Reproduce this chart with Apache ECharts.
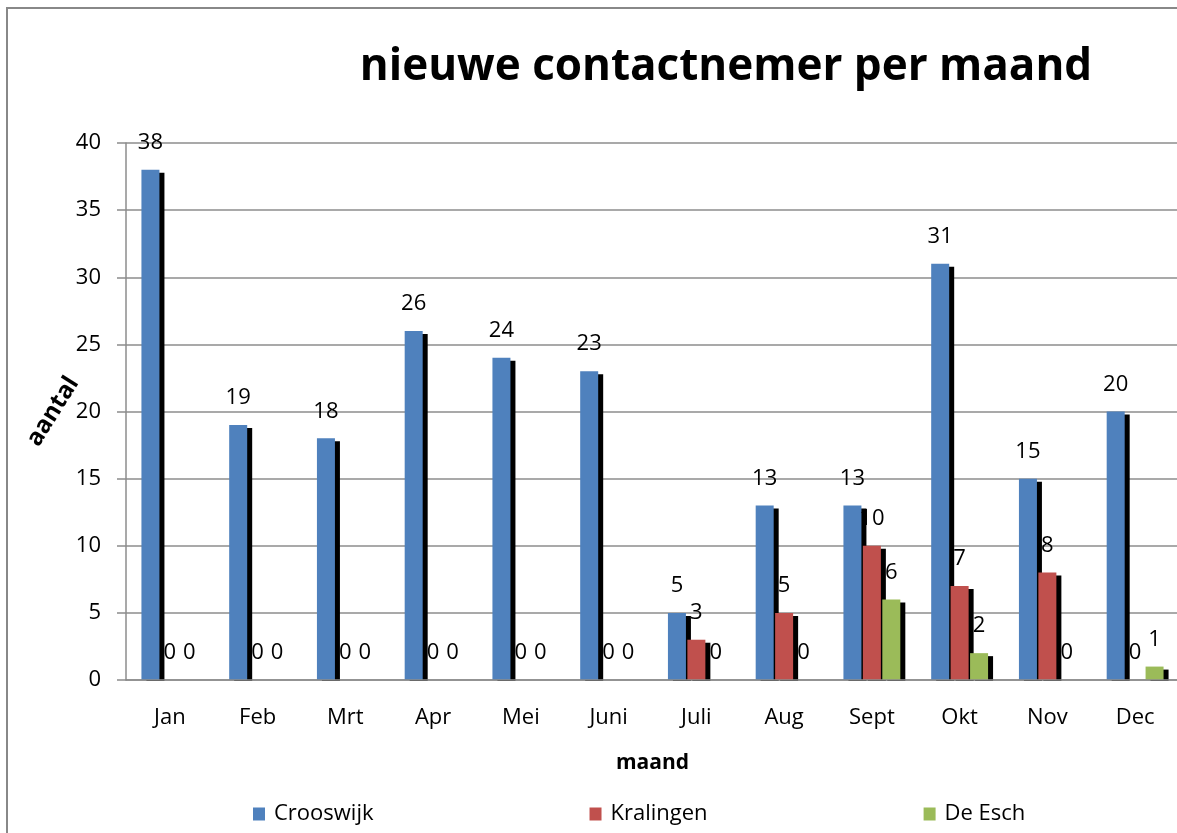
<!DOCTYPE html>
<html>
<head>
<meta charset="utf-8">
<title>nieuwe contactnemer per maand</title>
<script src="https://cdn.jsdelivr.net/npm/echarts@6/dist/echarts.min.js"></script>
<style>
  html, body { margin: 0; padding: 0; background: #fff; }
  #chart { width: 1177px; height: 833px; }
</style>
</head>
<body>
<div id="chart"></div>
<script>
// maanden
const months = ['Jan', 'Feb', 'Mrt', 'Apr', 'Mei', 'Juni', 'Juli', 'Aug', 'Sept', 'Okt', 'Nov', 'Dec'];
// nieuwe contactnemers per wijk
const crooswijk = [38, 19, 18, 26, 24, 23, 5, 13, 13, 31, 15, 20];
const kralingen = [0, 0, 0, 0, 0, 0, 3, 5, 10, 7, 8, 0];
const deEsch = [0, 0, 0, 0, 0, 0, 0, 0, 6, 2, 0, 1];
const yTicks = [0, 5, 10, 15, 20, 25, 30, 35, 40];

const font = 'Open Sans';
const gridColor = '#8c8c8c';

function barSeries(name, data, color) {
  return {
    name: name,
    type: 'bar',
    data: data,
    barWidth: 18,
    barGap: '8%',
    itemStyle: {
      color: color,
      // zwarte schaduw rechts van de staaf
      shadowColor: '#000',
      shadowBlur: 0,
      shadowOffsetX: 5,
      shadowOffsetY: 3
    },
    label: {
      show: true,
      position: 'top',
      distance: 16,
      color: '#000',
      fontFamily: font,
      fontSize: 22
    },
    animation: false
  };
}

const chart = echarts.init(document.getElementById('chart'));
chart.setOption({
  animation: false,
  textStyle: { fontFamily: font },
  graphic: [
    // kader van de grafiek
    {
      type: 'rect',
      shape: { x: 7, y: 8, width: 1220, height: 900 },
      style: { fill: 'none', stroke: '#888', lineWidth: 2 },
      silent: true
    },
    // schaduw niet onder de x-as laten uitsteken
    {
      type: 'rect',
      z: 2.5,
      shape: { x: 127, y: 681, width: 1060, height: 5 },
      style: { fill: '#fff' },
      silent: true
    }
  ],
  title: {
    text: 'nieuwe contactnemer per maand',
    left: 721,
    top: 40,
    textAlign: 'center',
    textStyle: {
      fontFamily: font,
      fontSize: 44,
      fontWeight: 'bold',
      color: '#000'
    }
  },
  legend: {
    left: 248,
    top: 798,
    itemWidth: 12,
    itemHeight: 13,
    itemGap: 216,
    icon: 'rect',
    textStyle: {
      fontFamily: font,
      fontSize: 22,
      color: '#000',
      padding: [0, 0, 0, 4]
    }
  },
  grid: {
    left: 126,
    top: 143,
    width: 1053,
    bottom: 153,
    containLabel: false,
    outerBoundsMode: 'none'
  },
  xAxis: {
    type: 'category',
    data: months,
    name: 'maand',
    nameLocation: 'middle',
    nameGap: 73,
    nameMoveOverlap: false,
    nameTextStyle: {
      fontFamily: font,
      fontSize: 21,
      fontWeight: 'bold',
      color: '#000'
    },
    z: 3,
    axisLine: { lineStyle: { color: gridColor, width: 1.5 } },
    axisTick: { length: 9, lineStyle: { color: gridColor, width: 1.5 } },
    axisLabel: {
      margin: 27,
      color: '#000',
      fontFamily: font,
      fontSize: 22
    }
  },
  yAxis: {
    type: 'value',
    min: yTicks[0],
    max: yTicks[yTicks.length - 1],
    interval: 5,
    name: 'aantal',
    nameLocation: 'middle',
    nameRotate: 58,
    nameGap: 73,
    nameMoveOverlap: false,
    nameTextStyle: {
      fontFamily: font,
      fontSize: 24,
      fontWeight: 'bold',
      color: '#000',
      align: 'center',
      verticalAlign: 'middle'
    },
    axisLine: { show: true, lineStyle: { color: gridColor, width: 1.5 } },
    axisTick: { show: true, length: 9, lineStyle: { color: gridColor, width: 1.5 } },
    axisLabel: {
      margin: 25,
      color: '#000',
      fontFamily: font,
      fontSize: 22
    },
    splitLine: { lineStyle: { color: gridColor, width: 1.5 } }
  },
  series: [
    barSeries('Crooswijk', crooswijk, '#4F81BD'),
    barSeries('Kralingen', kralingen, '#C0504D'),
    barSeries('De Esch', deEsch, '#9BBB59')
  ]
});
</script>
</body>
</html>
